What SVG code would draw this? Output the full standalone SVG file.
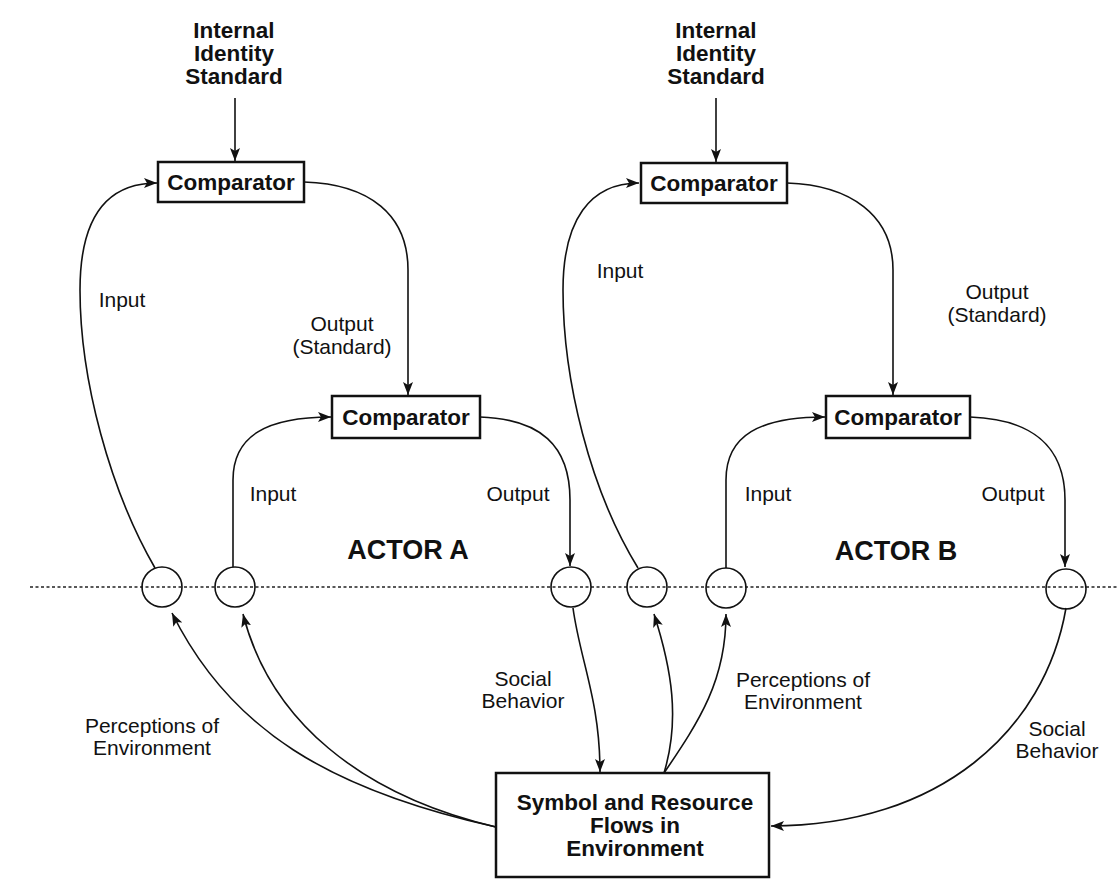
<svg xmlns="http://www.w3.org/2000/svg" width="1117" height="879" viewBox="0 0 1117 879">
<style>
.box{fill:#fff;stroke:#111;stroke-width:2.5}
.circ{fill:none;stroke:#111;stroke-width:1.6}
.con{fill:none;stroke:#111;stroke-width:1.6}
.b{font-family:"Liberation Sans",Arial,sans-serif;font-weight:bold;font-size:22.5px;fill:#111;text-anchor:middle}
.r{font-family:"Liberation Sans",Arial,sans-serif;font-size:21px;fill:#111;text-anchor:middle}
.actor{font-family:"Liberation Sans",Arial,sans-serif;font-weight:bold;font-size:27px;fill:#111;text-anchor:middle}
</style>
<defs>
<marker id="ah" markerWidth="14" markerHeight="10" refX="13" refY="5" orient="auto" markerUnits="userSpaceOnUse">
<path d="M0,0 L13,5 L0,10 L3,5 z" fill="#111"/>
</marker>
</defs>
<rect width="1117" height="879" fill="#fff"/>
<line x1="30" y1="587" x2="1117" y2="587" stroke="#222" stroke-width="1.5" stroke-dasharray="3 2.5"/>

<g id="connectors">
<path class="con" marker-end="url(#ah)" d="M235,98 L235,161"/>
<path class="con" marker-end="url(#ah)" d="M716,98 L716,162"/>
<path class="con" marker-end="url(#ah)" d="M155,568 C110,490 80,380 80,290 C80,220 105,183 157,183"/>
<path class="con" marker-end="url(#ah)" d="M304,182 C370,184 408,215 408,270 L408,395"/>
<path class="con" marker-end="url(#ah)" d="M233,567 L233,480 C233,435 268,417 331,417"/>
<path class="con" marker-end="url(#ah)" d="M480,417 C540,419 570,445 570,500 L570,566"/>
<path class="con" marker-end="url(#ah)" d="M638,568 C590,490 563,380 563,290 C563,220 590,183 639,183"/>
<path class="con" marker-end="url(#ah)" d="M787,183 C850,185 893,215 893,270 L893,395"/>
<path class="con" marker-end="url(#ah)" d="M726,568 L726,480 C726,435 760,417 825,417"/>
<path class="con" marker-end="url(#ah)" d="M970,417 C1030,419 1065,445 1065,500 L1065,567"/>
<path class="con" marker-end="url(#ah)" d="M496,827 C330,790 230,730 172,613"/>
<path class="con" marker-end="url(#ah)" d="M496,827 C360,795 270,720 243,614"/>
<path class="con" marker-end="url(#ah)" d="M573,608 C580,660 600,700 600,772"/>
<path class="con" marker-end="url(#ah)" d="M664,773 C680,720 672,670 654,614"/>
<path class="con" marker-end="url(#ah)" d="M664,773 C700,720 726,680 726,614"/>
<path class="con" marker-end="url(#ah)" d="M1066,608 C1045,730 940,826 771,826"/>
</g>

<g id="title-a">
<text class="b" x="234" y="38">Internal</text>
<text class="b" x="234" y="61">Identity</text>
<text class="b" x="234" y="84">Standard</text>
</g>
<g id="title-b">
<text class="b" x="716" y="38">Internal</text>
<text class="b" x="716" y="61">Identity</text>
<text class="b" x="716" y="84">Standard</text>
</g>

<g id="comp-a-top">
<rect class="box" x="158" y="162" width="146" height="40"/>
<text class="b" x="231" y="190">Comparator</text>
</g>
<g id="comp-b-top">
<rect class="box" x="641" y="163" width="146" height="40"/>
<text class="b" x="714" y="191">Comparator</text>
</g>
<g id="comp-a-mid">
<rect class="box" x="332" y="396" width="148" height="42"/>
<text class="b" x="406" y="425">Comparator</text>
</g>
<g id="comp-b-mid">
<rect class="box" x="826" y="396" width="144" height="42"/>
<text class="b" x="898" y="425">Comparator</text>
</g>

<g id="circles">
<circle class="circ" cx="162" cy="587" r="20"/>
<circle class="circ" cx="235" cy="587" r="20"/>
<circle class="circ" cx="571" cy="587" r="20"/>
<circle class="circ" cx="647" cy="587" r="20"/>
<circle class="circ" cx="726" cy="588" r="20"/>
<circle class="circ" cx="1066" cy="589" r="20"/>
</g>

<g id="env">
<rect class="box" x="496" y="773" width="273" height="104"/>
<text class="b" x="635" y="810">Symbol and Resource</text>
<text class="b" x="635" y="833">Flows in</text>
<text class="b" x="635" y="856">Environment</text>
</g>

<g id="labels">
<text class="actor" x="408" y="559">ACTOR A</text>
<text class="actor" x="896" y="560">ACTOR B</text>
<text class="r" x="122" y="307">Input</text>
<text class="r" x="342" y="331">Output</text>
<text class="r" x="342" y="354">(Standard)</text>
<text class="r" x="273" y="501">Input</text>
<text class="r" x="518" y="501">Output</text>
<text class="r" x="620" y="278">Input</text>
<text class="r" x="997" y="299">Output</text>
<text class="r" x="997" y="322">(Standard)</text>
<text class="r" x="768" y="501">Input</text>
<text class="r" x="1013" y="501">Output</text>
<text class="r" x="152" y="733">Perceptions of</text>
<text class="r" x="152" y="755">Environment</text>
<text class="r" x="523" y="686">Social</text>
<text class="r" x="523" y="708">Behavior</text>
<text class="r" x="803" y="687">Perceptions of</text>
<text class="r" x="803" y="709">Environment</text>
<text class="r" x="1057" y="736">Social</text>
<text class="r" x="1057" y="758">Behavior</text>
</g>
</svg>
